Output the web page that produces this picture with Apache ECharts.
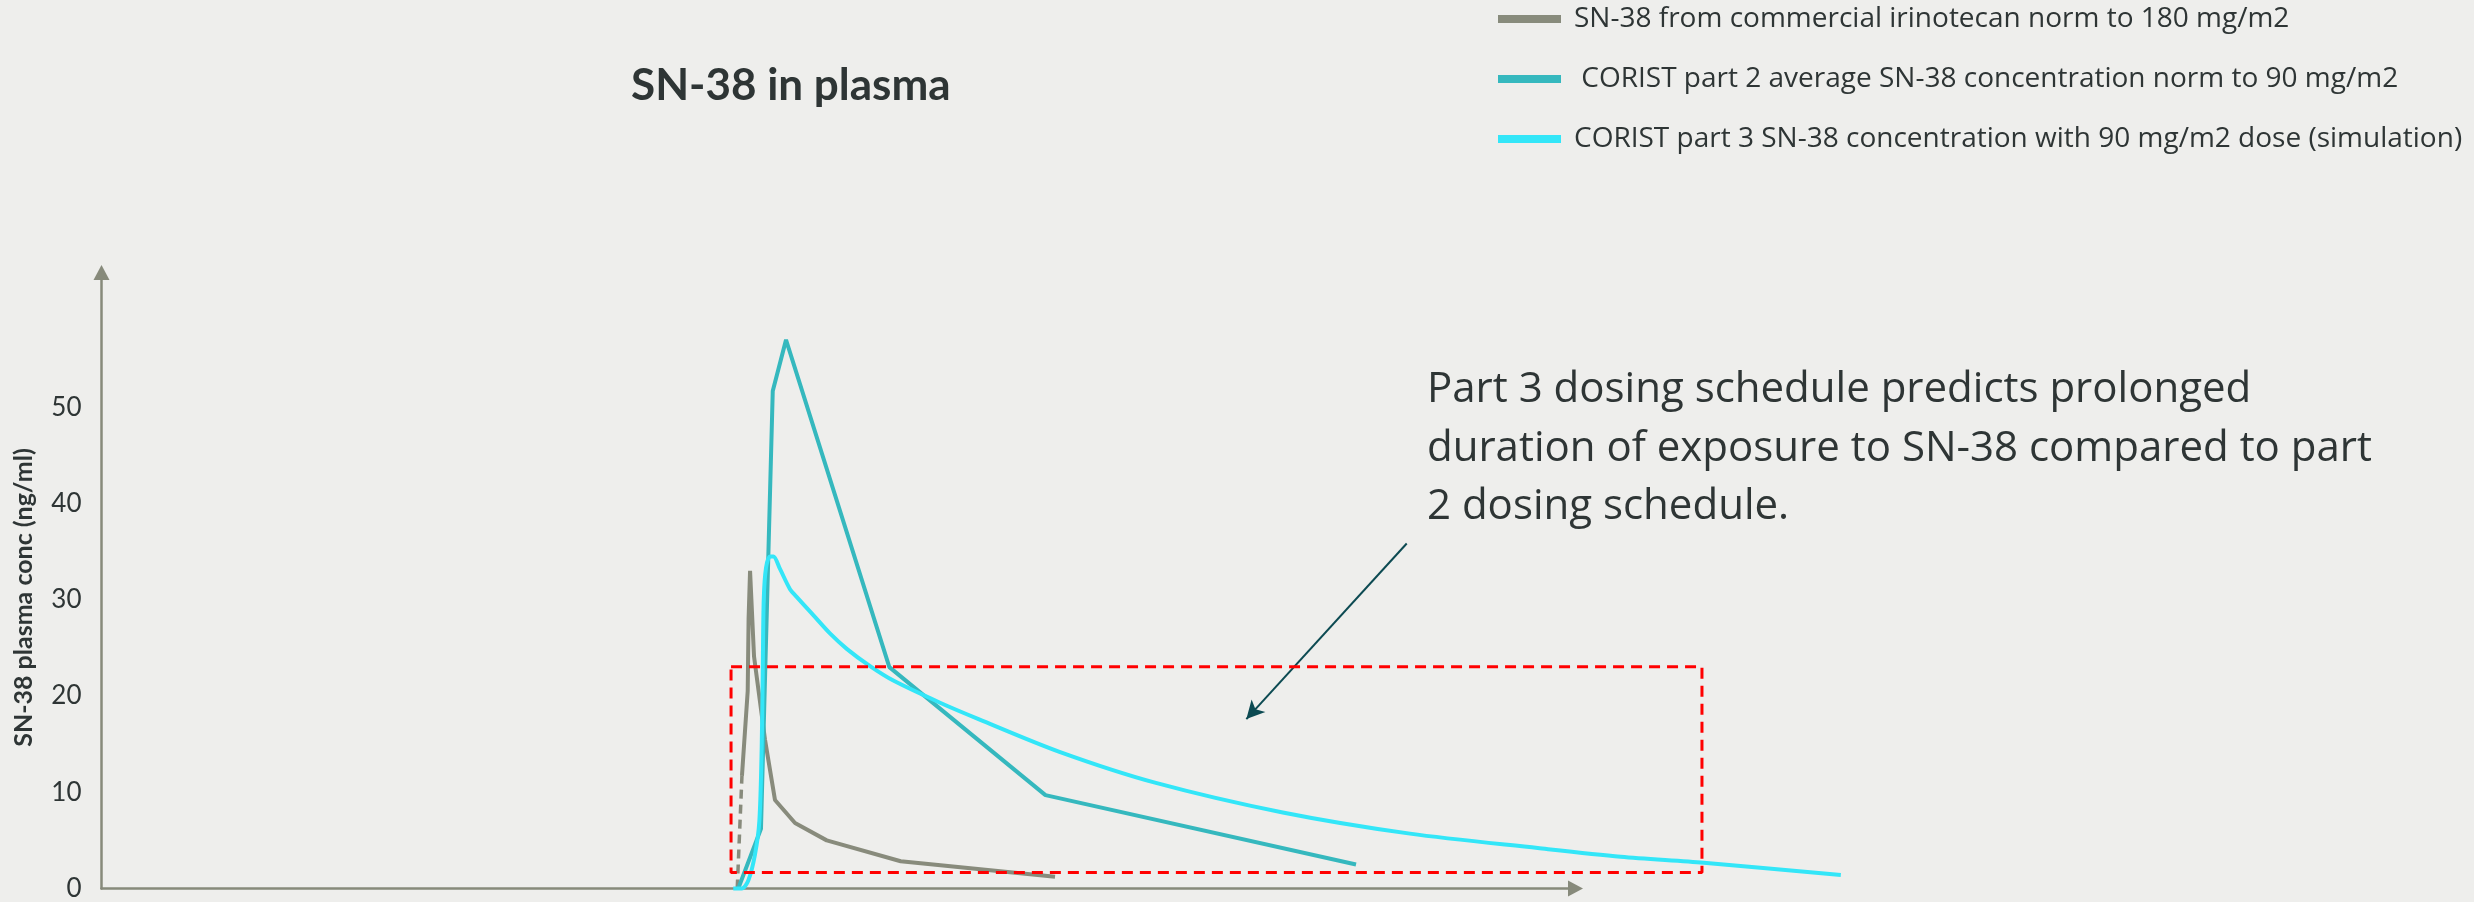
<!DOCTYPE html>
<html>
<head>
<meta charset="utf-8">
<script src="https://cdn.jsdelivr.net/npm/echarts@6/dist/echarts.min.js"></script>
<style>
  html, body { margin: 0; padding: 0; background: #eeeeec; }
  #chart { width: 2474px; height: 902px; }
</style>
</head>
<body>
<div id="chart"></div>
<script>
// Series names (legend entries)
const seriesNames = [
  'SN-38 from commercial irinotecan norm to 180 mg/m2',
  ' CORIST part 2 average SN-38 concentration norm to 90 mg/m2',
  'CORIST part 3 SN-38 concentration with 90 mg/m2 dose (simulation)'
];

// Time (relative units) / SN-38 plasma concentration (ng/ml)
const commercialLead = [[43.13, 0], [43.45, 11.7]];
const commercial = [
  [43.45, 11.7], [43.84, 20.5], [43.9, 28.0], [44.0, 33.0], [44.27, 24.1],
  [45.01, 15.5], [45.69, 9.2], [47.05, 6.8], [49.2, 5.0], [54.22, 2.83], [64.69, 1.22]
];
const part2 = [
  [43.2, 0], [44.74, 6.2], [45.54, 51.7], [46.44, 57.0], [53.45, 23.0], [64.04, 9.7], [85.11, 2.5]
];
const part3 = [
  [42.86, 0], [43.43, 0], [43.88, 0.83], [44.33, 3.5], [44.63, 7.0], [44.79, 14.7],
  [44.86, 22.4], [44.93, 30.1], [45.08, 33.3], [45.35, 34.5], [45.58, 34.5], [46.03, 33.2],
  [46.71, 31.1], [47.16, 30.3], [48.29, 28.4], [49.42, 26.5], [50.56, 24.9], [52.14, 23.1],
  [53.72, 21.6], [56.89, 19.3], [59.5, 17.6], [64.99, 14.2], [71.47, 11.0], [80.14, 7.9],
  [88.77, 5.7], [97.44, 4.2], [103.07, 3.3], [108.7, 2.68], [118.0, 1.4]
];

// Highlighted exposure window (time range, concentration range)
const windowTime = [42.71, 108.58];
const windowConc = [1.65, 23.05];

// Callout arrow: from text towards the window
const calloutFrom = [88.55, 35.84];
const calloutTo = [77.67, 17.6];

const yTicksMax = 50;
const calloutText = [
  'Part 3 dosing schedule predicts prolonged',
  'duration of exposure to SN-38 compared to part',
  '2 dosing schedule.'
];

const textColor = '#2e3535';
const axisColor = '#878a7b';
const colGray = '#888b7c';
const colTeal = '#35b8be';
const colCyan = '#33e6f8';

// Visible axes span time 0..axisMax; the data layer uses the same scale
// but runs further right so the curves can continue past the axis arrow.
const axisMax = 100;
const dataMax = 120;
const plotLeft = 101.5;
const plotWidth = 1474;
const plotTop = 272.5;
const plotBottom = 13.5;
const yMax = 64;

const windowPath = [
  [windowTime[0], windowConc[1]], [windowTime[1], windowConc[1]],
  [windowTime[1], windowConc[0]], [windowTime[0], windowConc[0]],
  [windowTime[0], windowConc[1]]
];

const chart = echarts.init(document.getElementById('chart'), null, { renderer: 'canvas' });

const hiddenAxis = {
  show: false,
  axisLine: { show: false },
  axisTick: { show: false },
  axisLabel: { show: false },
  splitLine: { show: false }
};

chart.setOption({
  backgroundColor: '#eeeeec',
  animation: false,
  title: {
    text: 'SN-38 in plasma',
    left: 631,
    top: 64,
    padding: 0,
    textAlign: 'left',
    textStyle: { fontFamily: 'Lato', fontWeight: 'bold', fontSize: 44, color: textColor }
  },
  legend: {
    data: seriesNames,
    orient: 'vertical',
    left: 1498,
    top: 4,
    padding: 0,
    itemGap: 30,
    itemWidth: 63,
    itemHeight: 8,
    icon: 'rect',
    selectedMode: false,
    textStyle: {
      fontFamily: 'Open Sans', fontSize: 28, color: textColor,
      lineHeight: 30, padding: [0, 0, 0, 8]
    }
  },
  grid: [
    { left: plotLeft, width: plotWidth, top: plotTop, bottom: plotBottom },
    { left: plotLeft, width: plotWidth * dataMax / axisMax, top: plotTop, bottom: plotBottom }
  ],
  xAxis: [
    {
      gridIndex: 0,
      type: 'value',
      min: 0,
      max: axisMax,
      axisLine: {
        show: true,
        lineStyle: { color: axisColor, width: 2.5 },
        symbol: ['none', 'triangle'],
        symbolSize: [16, 15]
      },
      axisTick: { show: false },
      axisLabel: { show: false },
      splitLine: { show: false }
    },
    Object.assign({ gridIndex: 1, type: 'value', min: 0, max: dataMax }, hiddenAxis)
  ],
  yAxis: [
    {
      gridIndex: 0,
      type: 'value',
      min: 0,
      max: yMax,
      interval: 10,
      name: 'SN-38 plasma conc (ng/ml)',
      nameLocation: 'middle',
      nameRotate: 90,
      nameGap: 65,
      nameTextStyle: {
        fontFamily: 'Lato', fontWeight: 'bold', fontSize: 25, color: textColor,
        padding: [0, 34, 0, 0]
      },
      axisLine: {
        show: true,
        lineStyle: { color: axisColor, width: 2.5 },
        symbol: ['none', 'triangle'],
        symbolSize: [16, 15]
      },
      axisTick: { show: false },
      splitLine: { show: false },
      axisLabel: {
        margin: 20,
        fontFamily: 'Lato', fontSize: 26, color: textColor,
        formatter: v => (v <= yTicksMax ? String(v) : '')
      }
    },
    Object.assign({ gridIndex: 1, type: 'value', min: 0, max: yMax }, hiddenAxis)
  ],
  graphic: [{
    type: 'text',
    left: 1427,
    top: 361,
    style: {
      text: calloutText.join('\n'),
      font: '42px "Open Sans"',
      lineHeight: 58.5,
      fill: textColor
    }
  }],
  series: [
    {
      name: seriesNames[0],
      type: 'line',
      xAxisIndex: 1, yAxisIndex: 1,
      data: commercial,
      showSymbol: false,
      clip: false,
      z: 2,
      color: colGray,
      lineStyle: { color: colGray, width: 4 }
    },
    {
      name: 'commercial-infusion',
      type: 'line',
      xAxisIndex: 1, yAxisIndex: 1,
      data: commercialLead,
      showSymbol: false,
      clip: false,
      z: 2,
      color: colGray,
      lineStyle: { color: colGray, width: 3.5, type: [9, 6] }
    },
    {
      name: seriesNames[1],
      type: 'line',
      xAxisIndex: 1, yAxisIndex: 1,
      data: part2,
      showSymbol: false,
      clip: false,
      z: 3,
      color: colTeal,
      lineStyle: { color: colTeal, width: 4 }
    },
    {
      name: seriesNames[2],
      type: 'line',
      xAxisIndex: 1, yAxisIndex: 1,
      data: part3,
      showSymbol: false,
      smooth: 0.3,
      clip: false,
      z: 4,
      color: colCyan,
      lineStyle: { color: colCyan, width: 4 }
    },
    {
      name: 'exposure-window',
      type: 'line',
      xAxisIndex: 1, yAxisIndex: 1,
      data: windowPath,
      showSymbol: false,
      clip: false,
      z: 5,
      silent: true,
      color: '#ff0000',
      lineStyle: { color: '#ff0000', width: 3, type: [11, 7] },
      markLine: {
        silent: true,
        symbol: ['none', 'arrow'],
        symbolSize: [14, 18],
        label: { show: false },
        lineStyle: { color: '#0c4a52', width: 2, type: 'solid' },
        data: [[{ coord: calloutFrom }, { coord: calloutTo }]]
      }
    }
  ]
});
</script>
</body>
</html>
